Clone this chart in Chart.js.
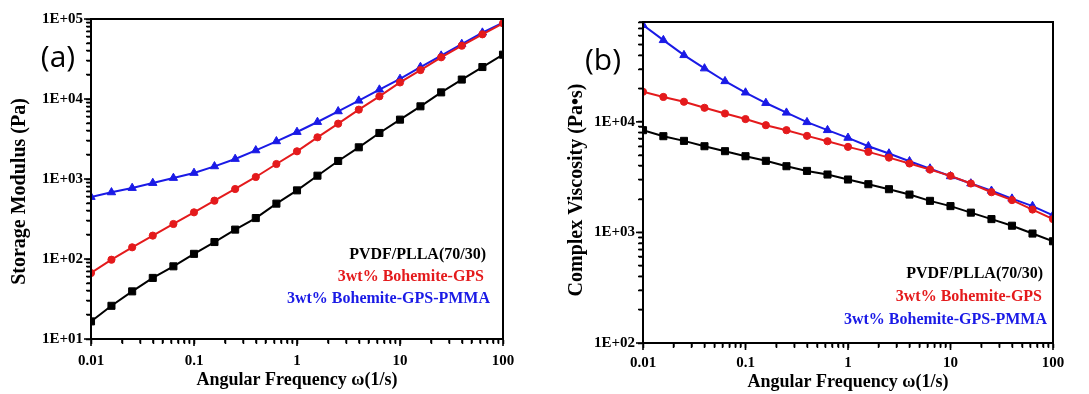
<!DOCTYPE html>
<html>
<head>
<meta charset="utf-8">
<title>Storage modulus and complex viscosity</title>
<script src="https://cdn.jsdelivr.net/npm/chart.js@4/dist/chart.umd.min.js"></script>
<style>
    body { margin: 0; background: #fff; }
    canvas { position: absolute; top: 0; display: block; }
</style>
</head>
<body>
<canvas id="modulus" width="545" height="394" style="left:0px"></canvas>
<canvas id="viscosity" width="544" height="394" style="left:545px"></canvas>

<script>
// angular frequency (1/s), same for every curve
let freq = [0.01, 0.0158, 0.0251, 0.0398, 0.0631, 0.1, 0.158, 0.251, 0.398, 0.631,
            1, 1.58, 2.51, 3.98, 6.31, 10, 15.8, 25.1, 39.8, 63.1, 100];

let seriesNames = ["PVDF/PLLA(70/30)", "3wt% Bohemite-GPS", "3wt% Bohemite-GPS-PMMA"];

// (a) storage modulus, Pa
let modulusBlend = [16.6, 26, 39.4, 58, 81, 116, 163, 233, 325, 492,
                    721, 1100, 1680, 2490, 3760, 5520, 8100, 12100, 17500, 25100, 35800];
let modulusGps = [66.8, 98, 140, 196, 274, 383, 536, 750, 1060, 1540,
                  2220, 3320, 4920, 7360, 10800, 16100, 23000, 33200, 46400, 64300, 88300];
let modulusPmma = [596, 681, 772, 891, 1030, 1190, 1440, 1780, 2280, 2960,
                   3870, 5160, 7010, 9530, 13100, 17800, 25100, 34800, 48700, 67500, 90000];

// (b) complex viscosity, Pa.s
let viscBlend = [8410, 7420, 6730, 6020, 5430, 4890, 4440, 3970, 3600, 3340,
                 3010, 2730, 2460, 2200, 1930, 1730, 1510, 1320, 1150, 977, 832];
let viscGps = [18700, 16800, 15200, 13400, 11900, 10600, 9330, 8410, 7470, 6680,
               5940, 5350, 4750, 4200, 3700, 3250, 2770, 2310, 1960, 1610, 1320];
let viscPmma = [75000, 54800, 40100, 30400, 23300, 18400, 14800, 12100, 9930, 8410,
                7170, 6020, 5170, 4400, 3780, 3220, 2770, 2380, 2020, 1730, 1430];

// decade tick labels
let xTickLabels = {"-2": "0.01", "-1": "0.1", "0": "1", "1": "10", "2": "100"};

let colors = ["#000000", "#e41a1c", "#1a1ae6"];
let markers = ["rect", "circle", "triangle"];
let markerSize = [5, 3.6, 4.8];

let serif = "'Liberation Serif', 'Times New Roman', serif";

function isDecade(v) {
    let l = Math.log10(v);
    return Math.abs(l - Math.round(l)) < 1e-6;
}

// 1..9 times every decade inside [min, max]
function logTicks(scale) {
    let list = [];
    for (let e = Math.floor(Math.log10(scale.min)); e <= Math.ceil(Math.log10(scale.max)); e++) {
        for (let m = 1; m < 10; m++) {
            let v = m * Math.pow(10, e);
            if (v >= scale.min * 0.999 && v <= scale.max * 1.001) {
                list.push({value: v, major: m == 1});
            }
        }
    }
    scale.ticks = list;
}

function makeDatasets(valueLists) {
    let sets = [];
    for (let i = 0; i < valueLists.length; i++) {
        let pts = [];
        for (let j = 0; j < freq.length; j++) {
            pts.push({x: freq[j], y: valueLists[i][j]});
        }
        sets.push({
            label: seriesNames[i],
            data: pts,
            borderColor: colors[i],
            backgroundColor: colors[i],
            borderWidth: 2,
            pointStyle: markers[i],
            pointRadius: markerSize[i],
            pointBorderWidth: 1,
            tension: 0
        });
    }
    return sets;
}

// frame, outside ticks (longer at decades), panel letter and the text legend
const decorPlugin = {
    id: "decor",
    afterDraw(chart, args, opts) {
        let ctx = chart.ctx;
        let a = chart.chartArea;
        ctx.save();
        ctx.strokeStyle = "#000";
        ctx.lineWidth = 1.6;

        let sx = chart.scales.x;
        for (let t of sx.ticks) {
            let p = sx.getPixelForValue(t.value);
            let len = isDecade(t.value) ? 7 : 4;
            ctx.beginPath();
            ctx.moveTo(p, a.bottom);
            ctx.lineTo(p, a.bottom + len);
            ctx.stroke();
        }
        let sy = chart.scales.y;
        for (let t of sy.ticks) {
            let p = sy.getPixelForValue(t.value);
            let len = isDecade(t.value) ? 7 : 4;
            ctx.beginPath();
            ctx.moveTo(a.left, p);
            ctx.lineTo(a.left - len, p);
            ctx.stroke();
        }

        ctx.lineWidth = 2;
        ctx.strokeRect(a.left, a.top, a.right - a.left, a.bottom - a.top);

        ctx.fillStyle = "#000";
        ctx.font = "30px 'Open Sans', sans-serif";
        ctx.textAlign = "center";
        ctx.textBaseline = "middle";
        ctx.fillText(opts.letter, opts.letterX, opts.letterY);

        ctx.font = "bold 16px " + serif;
        ctx.textAlign = "right";
        chart.data.datasets.forEach(function(ds, i) {
            ctx.fillStyle = ds.borderColor;
            ctx.fillText(ds.label, opts.legendRight[i], opts.legendTop + i * opts.legendGap);
        });
        ctx.restore();
    }
};

function makeChart(id, valueLists, cfg) {
    return new Chart(id, {
        type: "line",
        data: { datasets: makeDatasets(valueLists) },
        options: {
            responsive: false,
            animation: false,
            layout: { padding: cfg.padding },
            plugins: {
                legend: { display: false },
                tooltip: { enabled: false },
                decor: cfg.decor
            },
            scales: {
                x: {
                    type: "logarithmic",
                    min: 0.01,
                    max: 100,
                    grid: { drawOnChartArea: false, tickLength: 5, tickWidth: 1.5, tickColor: "#000" },
                    border: { display: true, color: "#000", width: 2 },
                    afterBuildTicks: logTicks,
                    afterFit: function(s) { s.height = cfg.xHeight; },
                    ticks: {
                        autoSkip: false,
                        maxRotation: 0,
                        padding: cfg.xTickPad,
                        color: "#000",
                        font: { family: serif, size: 15, weight: "bold" },
                        callback: function(v) {
                            if (!isDecade(v)) return "";
                            return xTickLabels[Math.round(Math.log10(v))];
                        }
                    },
                    title: {
                        display: true,
                        text: "Angular Frequency \u03c9(1/s)",
                        color: "#000",
                        font: { family: serif, size: 18, weight: "bold" },
                        padding: { top: 0, bottom: cfg.xTitlePad }
                    }
                },
                y: {
                    type: "logarithmic",
                    min: cfg.yMin,
                    max: cfg.yMax,
                    grid: { drawOnChartArea: false, tickLength: 5, tickWidth: 1.5, tickColor: "#000" },
                    border: { display: true, color: "#000", width: 2 },
                    afterBuildTicks: logTicks,
                    afterFit: function(s) { s.width = cfg.yWidth; },
                    ticks: {
                        autoSkip: false,
                        padding: cfg.yTickPad,
                        color: "#000",
                        font: { family: serif, size: 15, weight: "bold" },
                        callback: function(v) {
                            if (!isDecade(v)) return "";
                            return "1E+0" + Math.round(Math.log10(v));
                        }
                    },
                    title: {
                        display: true,
                        text: cfg.yTitle,
                        color: "#000",
                        font: { family: serif, size: 20, weight: "bold" },
                        padding: { top: cfg.yTitlePad, bottom: 0 }
                    }
                }
            }
        },
        plugins: [decorPlugin]
    });
}

// the y titles sit a little below the middle of the axis in the original,
// trailing spaces push the visible text down
makeChart("modulus", [modulusBlend, modulusGps, modulusPmma], {
    padding: { left: 0, top: 19, right: 42, bottom: 0 },
    xHeight: 55, yWidth: 91,
    xTickPad: 8, yTickPad: 3,
    xTitlePad: 3, yTitlePad: 8,
    yMin: 10, yMax: 100000,
    yTitle: "Storage Modulus (Pa)     ",
    decor: { letter: "(a)", letterX: 58, letterY: 58,
             legendRight: [486, 484, 490], legendTop: 255, legendGap: 22 }
});

makeChart("viscosity", [viscBlend, viscGps, viscPmma], {
    padding: { left: 0, top: 22, right: 36, bottom: 0 },
    xHeight: 51, yWidth: 98,
    xTickPad: 6, yTickPad: 3,
    xTitlePad: 1, yTitlePad: 20,
    yMin: 100, yMax: 80000,
    yTitle: "Complex Viscosity (Pa\u2022s)   ",
    decor: { letter: "(b)", letterX: 58, letterY: 61,
             legendRight: [498, 497, 502], legendTop: 274, legendGap: 23 }
});
</script>
</body>
</html>
